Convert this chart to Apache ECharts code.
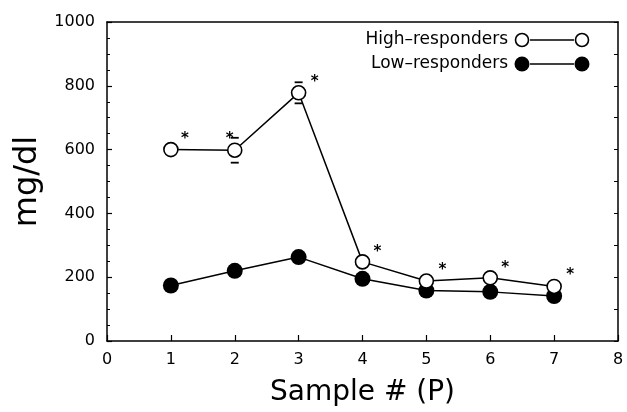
<!DOCTYPE html>
<html>
<head>
<meta charset="utf-8">
<script src="https://cdn.jsdelivr.net/npm/echarts@6/dist/echarts.min.js"></script>
<style>html,body{margin:0;padding:0;background:#fff}#c{width:627px;height:412px}</style>
</head>
<body>
<div id="c"></div>
<script>
var samples = [1, 2, 3, 4, 5, 6, 7];
var highResponders = [600, 598, 778, 248, 188, 198, 171];
var highErrors = [0, 39, 33, 0, 0, 0, 0];
var lowResponders = [174, 220, 263, 195, 158, 154, 141];
var starOffsets = [[14, -10], [-5, -11], [16, -11], [15, -10], [16, -11], [15, -10], [16, -11]];
var xTicks = [0, 1, 2, 3, 4, 5, 6, 7, 8];
var yTicks = [0, 200, 400, 600, 800, 1000];

var FONT = 'DejaVu Sans';
var chart = echarts.init(document.getElementById('c'), null, {renderer: 'canvas'});

var highData = samples.map(function (s, i) {
  return {
    value: [s, highResponders[i]],
    label: {offset: starOffsets[i]}
  };
});
var lowData = samples.map(function (s, i) { return [s, lowResponders[i]]; });
var errData = samples.map(function (s, i) { return [s, highResponders[i], highErrors[i]]; }).filter(function (d) { return d[2] > 0; });

var option = {
  animation: false,
  backgroundColor: '#fff',
  grid: {left: 107, right: 9, top: 22, bottom: 69},
  xAxis: [{
    type: 'value', min: xTicks[0], max: xTicks[xTicks.length - 1], interval: 1,
    axisLine: {show: true, onZero: false, lineStyle: {color: '#000', width: 1.5}},
    axisTick: {show: true, inside: true, length: 6, lineStyle: {color: '#000', width: 1.2}},
    axisLabel: {color: '#000', fontFamily: FONT, fontSize: 16, margin: 11},
    splitLine: {show: false},
    name: 'Sample # (P)', nameLocation: 'middle', nameGap: 38,
    nameTextStyle: {color: '#000', fontFamily: FONT, fontSize: 28}
  }, {
    type: 'value', min: 0, max: 8, position: 'top',
    axisLine: {show: true, onZero: false, lineStyle: {color: '#000', width: 1.5}},
    axisTick: {show: false}, axisLabel: {show: false}, splitLine: {show: false}
  }],
  yAxis: [{
    type: 'value', min: yTicks[0], max: yTicks[yTicks.length - 1], interval: 200,
    axisLine: {show: true, onZero: false, lineStyle: {color: '#000', width: 1.5}},
    axisTick: {show: true, inside: true, length: 5, lineStyle: {color: '#000', width: 1.2}},
    minorTick: {show: true, splitNumber: 4, length: 3, lineStyle: {color: '#000', width: 1}},
    axisLabel: {color: '#000', fontFamily: FONT, fontSize: 16, margin: 12, formatter: function (v) { return String(v); }},
    splitLine: {show: false},
    name: 'mg/dl', nameLocation: 'middle', nameGap: 54, nameRotate: 90,
    nameTextStyle: {color: '#000', fontFamily: FONT, fontSize: 32}
  }, {
    type: 'value', min: 0, max: 1000, interval: 100, position: 'right',
    axisLine: {show: true, onZero: false, lineStyle: {color: '#000', width: 1.5}},
    axisTick: {show: true, inside: true, length: 4, lineStyle: {color: '#000', width: 1}},
    axisLabel: {show: false}, splitLine: {show: false}
  }],
  series: [{
    type: 'custom',
    z: 1,
    xAxisIndex: 0, yAxisIndex: 0,
    data: errData,
    renderItem: function (params, api) {
      var x = api.value(0), y = api.value(1), e = api.value(2);
      var top = api.coord([x, y + e]);
      var bot = api.coord([x, y - e]);
      var hw = 4;
      var st = {stroke: '#000', lineWidth: 1.8};
      return {type: 'group', children: [
        {type: 'line', shape: {x1: top[0] - hw, y1: top[1], x2: top[0] + hw, y2: top[1]}, style: st},
        {type: 'line', shape: {x1: bot[0] - hw, y1: bot[1], x2: bot[0] + hw, y2: bot[1]}, style: st}
      ]};
    }
  }, {
    name: 'Low-responders', type: 'line', z: 3,
    data: lowData,
    symbol: 'circle', symbolSize: 16,
    itemStyle: {color: '#000'},
    lineStyle: {color: '#000', width: 1.5}
  }, {
    name: 'High-responders', type: 'line', z: 4,
    data: highData,
    symbol: 'circle', symbolSize: 14,
    itemStyle: {color: '#fff', borderColor: '#000', borderWidth: 1.6},
    lineStyle: {color: '#000', width: 1.5},
    label: {show: true, position: 'inside', formatter: '*', color: '#000', fontFamily: FONT, fontSize: 15, fontWeight: 'bold'}
  }],
  graphic: [
    {type: 'text', x: 508, y: 40, style: {text: 'High\u2013responders', font: '17px "DejaVu Sans"', fill: '#000', align: 'right', verticalAlign: 'middle'}},
    {type: 'circle', shape: {cx: 522, cy: 40, r: 6.5}, style: {fill: '#fff', stroke: '#000', lineWidth: 1.6}},
    {type: 'line', shape: {x1: 530, y1: 40, x2: 574, y2: 40}, style: {stroke: '#000', lineWidth: 1.5}},
    {type: 'circle', shape: {cx: 582, cy: 40, r: 6.5}, style: {fill: '#fff', stroke: '#000', lineWidth: 1.6}},
    {type: 'text', x: 508, y: 64, style: {text: 'Low\u2013responders', font: '17px "DejaVu Sans"', fill: '#000', align: 'right', verticalAlign: 'middle'}},
    {type: 'circle', shape: {cx: 522, cy: 64, r: 7.5}, style: {fill: '#000'}},
    {type: 'line', shape: {x1: 530, y1: 64, x2: 574, y2: 64}, style: {stroke: '#000', lineWidth: 1.5}},
    {type: 'circle', shape: {cx: 582, cy: 64, r: 7.5}, style: {fill: '#000'}}
  ]
};
chart.setOption(option);
</script>
</body>
</html>
